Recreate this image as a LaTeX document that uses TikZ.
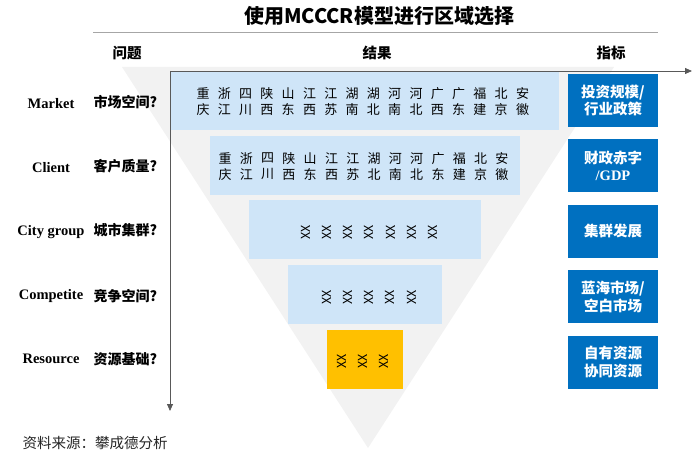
\documentclass[tikz,border=0pt]{standalone}
\usepackage{fontspec}
\setmainfont{Liberation Serif}
\newfontfamily\cjk{Noto Sans CJK SC}
\usetikzlibrary{arrows.meta,positioning}
\definecolor{barblue}{HTML}{CFE5F8}
\definecolor{idxblue}{HTML}{0070C0}
\definecolor{keygold}{HTML}{FFC000}
\definecolor{funnelgray}{HTML}{F2F2F2}
\definecolor{rulegray}{HTML}{A6A6A6}

\begin{document}
\begin{tikzpicture}[
    x=1pt, y=-1pt,
    bar/.style={fill=barblue, inner sep=0pt, minimum height=59pt},
    keybar/.style={bar, fill=keygold},
    index/.style={fill=idxblue, text=white, align=center, inner sep=0pt,
      minimum width=90pt, minimum height=53pt,
      font=\cjk\bfseries\fontsize{14.5}{17.5}\selectfont},
    head/.style={font=\cjk\bfseries\fontsize{14.5}{17}\selectfont},
    question/.style={anchor=west, font=\cjk\bfseries\fontsize{14}{17}\selectfont},
    layer/.style={font=\bfseries\fontsize{14.5}{17}\selectfont},
    prov/.style={align=center, inner sep=0pt, font=\cjk\fontsize{13}{16}\selectfont},
    xx/.style={rotate=90, inner sep=0pt, font=\cjk\fontsize{12.5}{12.5}\selectfont},
    axis/.style={-{Triangle[length=7pt,width=6pt]}, line width=0.8pt, draw=black!65}
  ]
    \useasboundingbox (0,0) rectangle (699,465);
    \fill[funnelgray] (122,67) -- (614,67) -- (368,448) -- cycle;

    \node[font=\cjk\bfseries\fontsize{20}{24}\selectfont] (title) at (379,16) {使用MCCCR模型进行区域选择};
    \draw[rulegray, line width=1.5pt] (93,32.5) -- (658,32.5);
    \node[head] (hproblem) at (127,53) {问题};
    \node[head] (hresult) at (377,53) {结果};
    \node[head] (hindex) at (611,53) {指标};

    % funnel layers
    \node[bar, minimum width=388pt] (market) at (365,101) {};
    \node[bar, minimum width=310pt] (client) at (365,165.5) {};
    \node[bar, minimum width=232pt] (city) at (365,230) {};
    \node[bar, minimum width=154pt] (compete) at (365,294.5) {};
    \node[keybar, minimum width=76pt] (resource) at (365,359) {};

    \foreach \p [count=\i] in {重\\庆,浙\\江,四\\川,陕\\西,山\\东,江\\西,江\\苏,湖\\南,
        湖\\北,河\\南,河\\北,广\\西,广\\东,福\\建,北\\京,安\\徽}
      \node[prov] (mp\i) at ({203+21.3*(\i-1)},102) {\p};
    \foreach \p [count=\i] in {重\\庆,浙\\江,四\\川,陕\\西,山\\东,江\\西,江\\苏,
        湖\\北,河\\南,河\\北,广\\东,福\\建,北\\京,安\\徽}
      \node[prov] (cp\i) at ({225+21.3*(\i-1)},166.5) {\p};
    \foreach \i in {1,...,7}
      \node[xx] (cx\i) at ({305.7+21.2*(\i-1)},232.5) {XX};
    \foreach \i in {1,...,5}
      \node[xx] (kx\i) at ({326.7+21.2*(\i-1)},297) {XX};
    \foreach \i in {1,...,3}
      \node[xx] (rx\i) at ({341.7+21.2*(\i-1)},361.5) {XX};

    % questions
    \node[layer] (lmarket) at (51,104) {Market};
    \node[layer] (lclient) at (51,168) {Client};
    \node[layer] (lcity) at (51,232) {City group};
    \node[layer] (lcompete) at (51,296) {Competite};
    \node[layer] (lresource) at (51,359) {Resource};
    \node[question] (qmarket) at (90,102) {市场空间?};
    \node[question] (qclient) at (90,166) {客户质量?};
    \node[question] (qcity) at (90,230) {城市集群?};
    \node[question] (qcompete) at (90,296) {竞争空间?};
    \node[question] (qresource) at (90,359) {资源基础?};

    % indicators
    \node[index] (imarket) at (613,100.5) {投资规模/\\行业政策};
    \node[index, below=12pt of imarket] (iclient) {财政赤字\\{\rmfamily\bfseries /GDP}};
    \node[index, below=12pt of iclient] (icity) {集群发展};
    \node[index, below=12pt of icity] (icompete) {蓝海市场/\\空白市场};
    \node[index, below=12pt of icompete] (iresource) {自有资源\\协同资源};

    \coordinate (origin) at (170,71);
    \coordinate (xend) at (692,71);
    \coordinate (yend) at (170,411);
    \draw[axis] (origin) -- (xend);
    \draw[axis] (origin) -- (yend);

    \node[anchor=west, text=black!85, font=\cjk\fontsize{14.5}{17}\selectfont] (source) at (19,443) {资料来源：攀成德分析};
  \end{tikzpicture}
\end{document}
